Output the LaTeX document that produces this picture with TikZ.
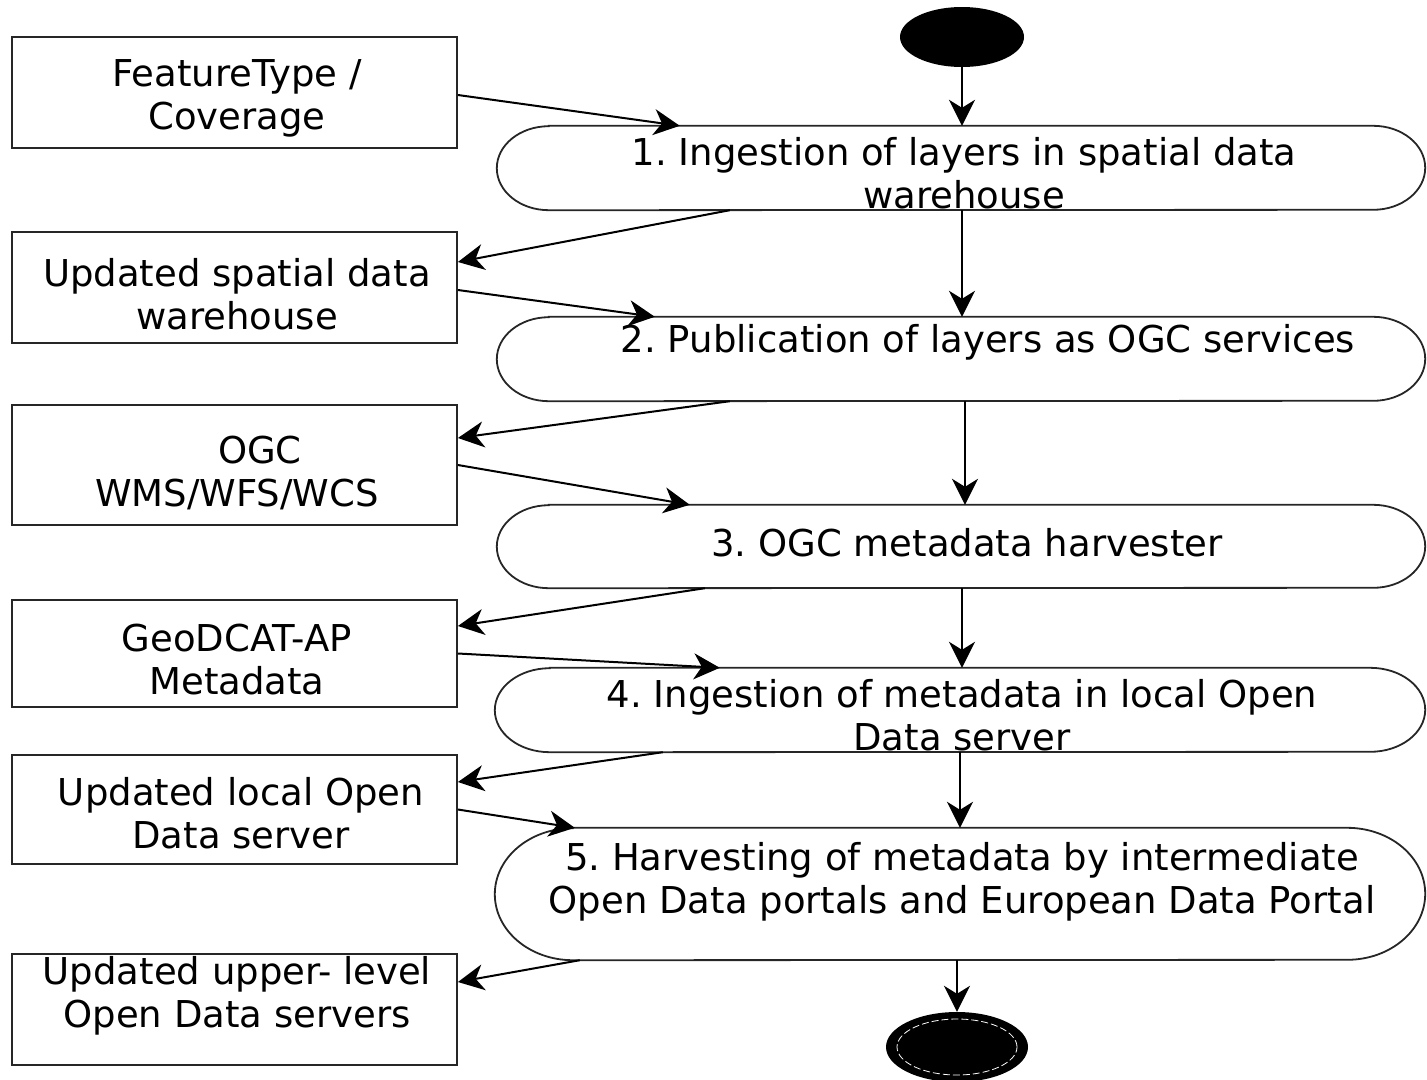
\documentclass[tikz,border=0pt]{standalone}
\usepackage{fontspec}
\setmainfont{DejaVu Sans}
\usetikzlibrary{shapes.geometric,arrows.meta}
\frenchspacing

% outline of an activity: straight top and bottom, elliptic ends
\newcommand\activityoutline[3]{%
  \draw[pillline] ([xshift=#2]#1.north west) -- ([xshift=-#2]#1.north east)
    arc[start angle=90,end angle=-90,x radius=#2,y radius=#3]
    -- ([xshift=#2]#1.south west)
    arc[start angle=270,end angle=90,x radius=#2,y radius=#3] -- cycle;}

\begin{document}
\begin{tikzpicture}[x=1pt,y=-1pt,
  databox/.style={rectangle,draw=black!85,line width=1.8pt,minimum width=445pt,inner sep=0pt},
  activity/.style={rectangle,draw=none,inner sep=0pt},
  pillline/.style={draw=black!85,line width=1.8pt},
  lbl/.style={align=center,inner sep=0pt,font=\fontsize{37}{43}\selectfont},
  arr/.style={-{Stealth[length=26pt,width=26pt,inset=8pt]},line width=2pt},
  terminal/.style={ellipse,fill=black,inner sep=0pt}]

\useasboundingbox (0,0) rectangle (1427,1079);

% start and end states
\node[terminal,minimum width=124pt,minimum height=60pt] (start) at (962,37) {};
\node[terminal,minimum width=142pt,minimum height=70pt] (stop) at (957,1047) {};
\draw[white,line width=0.8pt,dash pattern=on 7pt off 3pt]
  (stop.center) ellipse [x radius=60pt,y radius=28pt];

% data objects on the left
\node[databox,minimum height=111pt] (b1) at (234.5,92.5) {};
\node[databox,minimum height=111pt] (b2) at (234.5,287.5) {};
\node[databox,minimum height=120pt] (b3) at (234.5,465) {};
\node[databox,minimum height=107pt] (b4) at (234.5,653.5) {};
\node[databox,minimum height=109pt] (b5) at (234.5,809.5) {};
\node[databox,minimum height=111pt] (b6) at (234.5,1009.5) {};

\node[lbl] (t1) at (237,98.5) {FeatureType /\\Coverage};
\node[lbl] (t2) at (237,294) {Updated spatial data\\warehouse};
\node[lbl] (t3) at (237,472.5) {\hspace*{46pt}OGC\\WMS/WFS/WCS};
\node[lbl] (t4) at (237,659.5) {GeoDCAT-AP\\Metadata};
\node[lbl] (t5) at (241,813) {Updated local Open\\Data server};
\node[lbl] (t6) at (237,995.5) {Updated upper- level\\Open Data servers};

% activities on the right
\node[activity,minimum width=928pt,minimum height=84pt] (p1) at (961,168) {};
\node[activity,minimum width=928pt,minimum height=84pt] (p2) at (961,359) {};
\node[activity,minimum width=928pt,minimum height=83pt] (p3) at (961,546.5) {};
\node[activity,minimum width=930pt,minimum height=84pt] (p4) at (960,710) {};
\node[activity,minimum width=930pt,minimum height=132pt] (p5) at (960,894) {};

\activityoutline{p1}{52pt}{42pt}
\activityoutline{p2}{52pt}{42pt}
\activityoutline{p3}{52pt}{41.5pt}
\activityoutline{p4}{55pt}{42pt}
\activityoutline{p5}{78pt}{66pt}

\node[lbl] (s1) at (964,173.5) {1. Ingestion of layers in spatial data\\warehouse};
\node[lbl] (s2) at (988,342) {2. Publication of layers as OGC services};
\node[lbl] (s3) at (967,548) {\strut 3. OGC metadata harvester};
\node[lbl] (s4) at (962,715.5) {4. Ingestion of metadata in local Open\\Data server};
\node[lbl] (s5) at (962,881.5) {5. Harvesting of metadata by intermediate\\Open Data portals and European Data Portal};

% control flow
\draw[arr] (start.south) -- ([xshift=1pt]p1.north);
\draw[arr] ([xshift=1pt]p1.south) -- ([xshift=1pt]p2.north);
\draw[arr] ([xshift=4pt]p2.south) -- ([xshift=4pt]p3.north);
\draw[arr] ([xshift=1pt]p3.south) -- ([xshift=2pt]p4.north);
\draw[arr] (p4.south) -- (p5.north);
\draw[arr] ([xshift=-3pt]p5.south) -- (stop.north);

% object flow
\draw[arr] ([yshift=-2.5pt]b1.east) -- ([xshift=183pt]p1.north west);
\draw[arr] ([xshift=233pt]p1.south west) -- ([yshift=25.5pt]b2.east);
\draw[arr] ([yshift=-2.5pt]b2.east) -- ([xshift=158pt]p2.north west);
\draw[arr] ([xshift=233pt]p2.south west) -- ([yshift=27pt]b3.east);
\draw[arr] (b3.east) -- ([xshift=193pt]p3.north west);
\draw[arr] ([xshift=208pt]p3.south west) -- ([yshift=27.5pt]b4.east);
\draw[arr] (b4.east) -- ([xshift=225pt]p4.north west);
\draw[arr] ([xshift=168pt]p4.south west) -- ([yshift=27.5pt]b5.east);
\draw[arr] (b5.east) -- ([xshift=80pt]p5.north west);
\draw[arr] ([xshift=85pt]p5.south west) -- ([yshift=27.5pt]b6.east);
\end{tikzpicture}
\end{document}
